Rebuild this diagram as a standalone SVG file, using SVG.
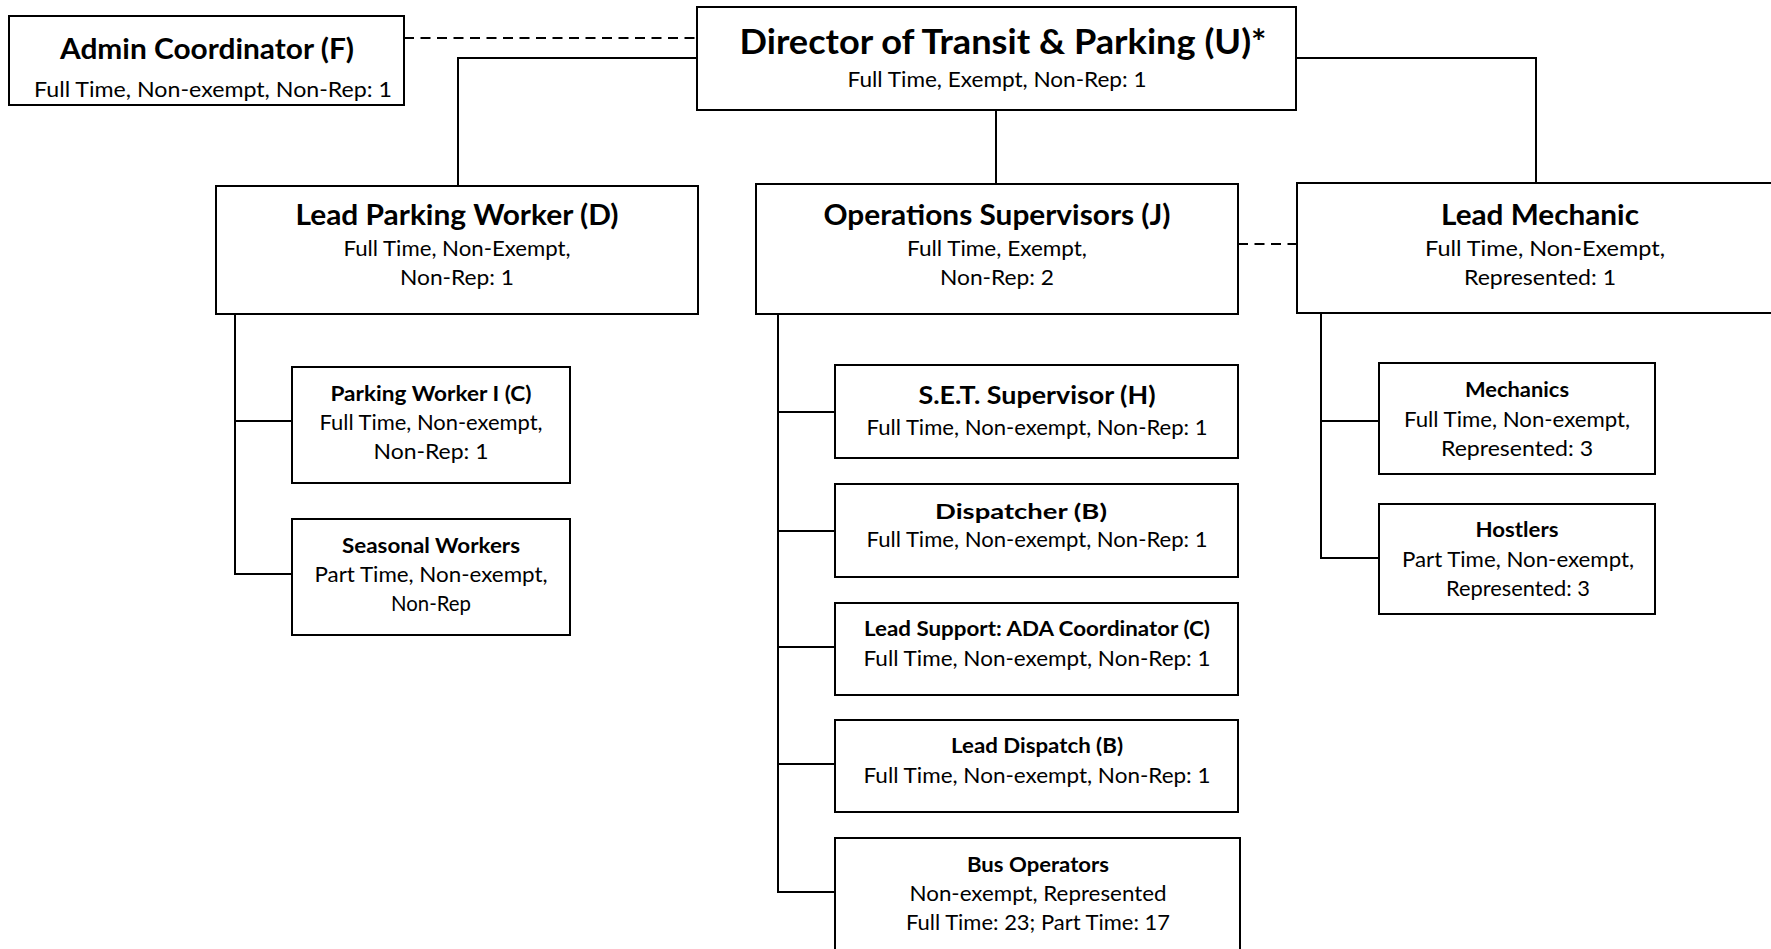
<svg xmlns="http://www.w3.org/2000/svg" width="1771" height="949" viewBox="0 0 1771 949" xml:space="preserve">
<style>
.box{fill:#fff;stroke:#000;stroke-width:2}
.ln{fill:none;stroke:#000;stroke-width:2}
.dash{fill:none;stroke:#000;stroke-width:2.2;stroke-dasharray:10 6.5}
text{font-family:Lato,"Liberation Sans",sans-serif;fill:#000;text-anchor:middle}
.tb{font-weight:bold;font-size:29px}
.tx{font-weight:bold;font-size:35px}
.ts{font-weight:bold;font-size:20.5px}
.tm{font-weight:bold;font-size:25px}
.s{font-size:21px}
</style>
<rect width="1771" height="949" fill="#fff"/>
<g id="connectors">
<path class="dash" d="M404 38H697"/>
<path class="dash" d="M1238 244H1297"/>
<path class="ln" d="M697 58H458V186"/>
<path class="ln" d="M1296 58H1536V183"/>
<path class="ln" d="M996 110V184"/>
<path class="ln" d="M235 313V574H292M235 421H292"/>
<path class="ln" d="M778 314V892H835M778 412H835M778 531H835M778 647H835M778 764H835"/>
<path class="ln" d="M1321 313V558H1379M1321 421H1379"/>
</g>
<g id="admin">
<rect class="box" x="9" y="16" width="395" height="89"/>
<text class="tb" x="207" y="59" textLength="294" lengthAdjust="spacingAndGlyphs">Admin Coordinator (F)</text>
<text class="s" x="213" y="97" textLength="358" lengthAdjust="spacingAndGlyphs">Full Time, Non-exempt, Non-Rep:  1</text>
</g>
<g id="director">
<rect class="box" x="697" y="7" width="599" height="103"/>
<text class="tx" x="1003" y="54" textLength="527" lengthAdjust="spacingAndGlyphs">Director of Transit &amp; Parking (U)*</text>
<text class="s" x="997" y="87" textLength="299" lengthAdjust="spacingAndGlyphs">Full Time, Exempt, Non-Rep:  1</text>
</g>
<g id="lead-parking">
<rect class="box" x="216" y="186" width="482" height="128"/>
<text class="tb" x="457" y="225" textLength="323" lengthAdjust="spacingAndGlyphs">Lead Parking Worker (D)</text>
<text class="s" x="457" y="256" textLength="227" lengthAdjust="spacingAndGlyphs">Full Time, Non-Exempt,</text>
<text class="s" x="457" y="285" textLength="114" lengthAdjust="spacingAndGlyphs">Non-Rep:  1</text>
</g>
<g id="ops">
<rect class="box" x="756" y="184" width="482" height="130"/>
<text class="tb" x="997" y="225" textLength="347" lengthAdjust="spacingAndGlyphs">Operations Supervisors (J)</text>
<text class="s" x="997" y="256" textLength="180" lengthAdjust="spacingAndGlyphs">Full Time, Exempt,</text>
<text class="s" x="997" y="285" textLength="114" lengthAdjust="spacingAndGlyphs">Non-Rep:  2</text>
</g>
<g id="lead-mechanic">
<rect class="box" x="1297" y="183" width="490" height="130"/>
<text class="tb" x="1540" y="225" textLength="198" lengthAdjust="spacingAndGlyphs">Lead Mechanic</text>
<text class="s" x="1545" y="256" textLength="240" lengthAdjust="spacingAndGlyphs">Full Time, Non-Exempt,</text>
<text class="s" x="1540" y="285" textLength="152" lengthAdjust="spacingAndGlyphs">Represented:  1</text>
</g>
<g id="parking-worker">
<rect class="box" x="292" y="367" width="278" height="116"/>
<text class="ts" x="431" y="401" textLength="201" lengthAdjust="spacingAndGlyphs">Parking Worker I (C)</text>
<text class="s" x="431" y="430" textLength="223" lengthAdjust="spacingAndGlyphs">Full Time, Non-exempt,</text>
<text class="s" x="431" y="459" textLength="115" lengthAdjust="spacingAndGlyphs">Non-Rep:  1</text>
</g>
<g id="seasonal">
<rect class="box" x="292" y="519" width="278" height="116"/>
<text class="ts" x="431" y="553" textLength="178" lengthAdjust="spacingAndGlyphs">Seasonal Workers</text>
<text class="s" x="431" y="582" textLength="233" lengthAdjust="spacingAndGlyphs">Part Time, Non-exempt,</text>
<text class="s" x="431" y="611" textLength="80" lengthAdjust="spacingAndGlyphs">Non-Rep</text>
</g>
<g id="set">
<rect class="box" x="835" y="365" width="403" height="93"/>
<text class="tm" x="1037" y="404" textLength="237" lengthAdjust="spacingAndGlyphs">S.E.T. Supervisor (H)</text>
<text class="s" x="1037" y="435" textLength="341" lengthAdjust="spacingAndGlyphs">Full Time, Non-exempt, Non-Rep: 1</text>
</g>
<g id="dispatcher">
<rect class="box" x="835" y="484" width="403" height="93"/>
<text class="ts" x="1021" y="519" textLength="172" lengthAdjust="spacingAndGlyphs">Dispatcher (B)</text>
<text class="s" x="1037" y="547" textLength="341" lengthAdjust="spacingAndGlyphs">Full Time, Non-exempt, Non-Rep: 1</text>
</g>
<g id="lead-support">
<rect class="box" x="835" y="603" width="403" height="92"/>
<text class="ts" x="1037" y="636" textLength="346" lengthAdjust="spacingAndGlyphs">Lead Support: ADA Coordinator (C)</text>
<text class="s" x="1037" y="666" textLength="347" lengthAdjust="spacingAndGlyphs">Full Time, Non-exempt, Non-Rep:  1</text>
</g>
<g id="lead-dispatch">
<rect class="box" x="835" y="720" width="403" height="92"/>
<text class="ts" x="1037" y="753" textLength="172" lengthAdjust="spacingAndGlyphs">Lead Dispatch (B)</text>
<text class="s" x="1037" y="783" textLength="347" lengthAdjust="spacingAndGlyphs">Full Time, Non-exempt, Non-Rep:  1</text>
</g>
<g id="bus-operators">
<rect class="box" x="835" y="838" width="405" height="125"/>
<text class="ts" x="1038" y="872" textLength="142" lengthAdjust="spacingAndGlyphs">Bus Operators</text>
<text class="s" x="1038" y="901" textLength="257" lengthAdjust="spacingAndGlyphs">Non-exempt, Represented</text>
<text class="s" x="1038" y="930" textLength="264" lengthAdjust="spacingAndGlyphs">Full Time: 23; Part Time: 17</text>
</g>
<g id="mechanics">
<rect class="box" x="1379" y="363" width="276" height="111"/>
<text class="ts" x="1517" y="397" textLength="104" lengthAdjust="spacingAndGlyphs">Mechanics</text>
<text class="s" x="1517" y="427" textLength="226" lengthAdjust="spacingAndGlyphs">Full Time, Non-exempt,</text>
<text class="s" x="1517" y="456" textLength="152" lengthAdjust="spacingAndGlyphs">Represented:  3</text>
</g>
<g id="hostlers">
<rect class="box" x="1379" y="504" width="276" height="110"/>
<text class="ts" x="1517" y="537" textLength="83" lengthAdjust="spacingAndGlyphs">Hostlers</text>
<text class="s" x="1518" y="567" textLength="232" lengthAdjust="spacingAndGlyphs">Part Time, Non-exempt,</text>
<text class="s" x="1518" y="596" textLength="144" lengthAdjust="spacingAndGlyphs">Represented: 3</text>
</g>
</svg>
